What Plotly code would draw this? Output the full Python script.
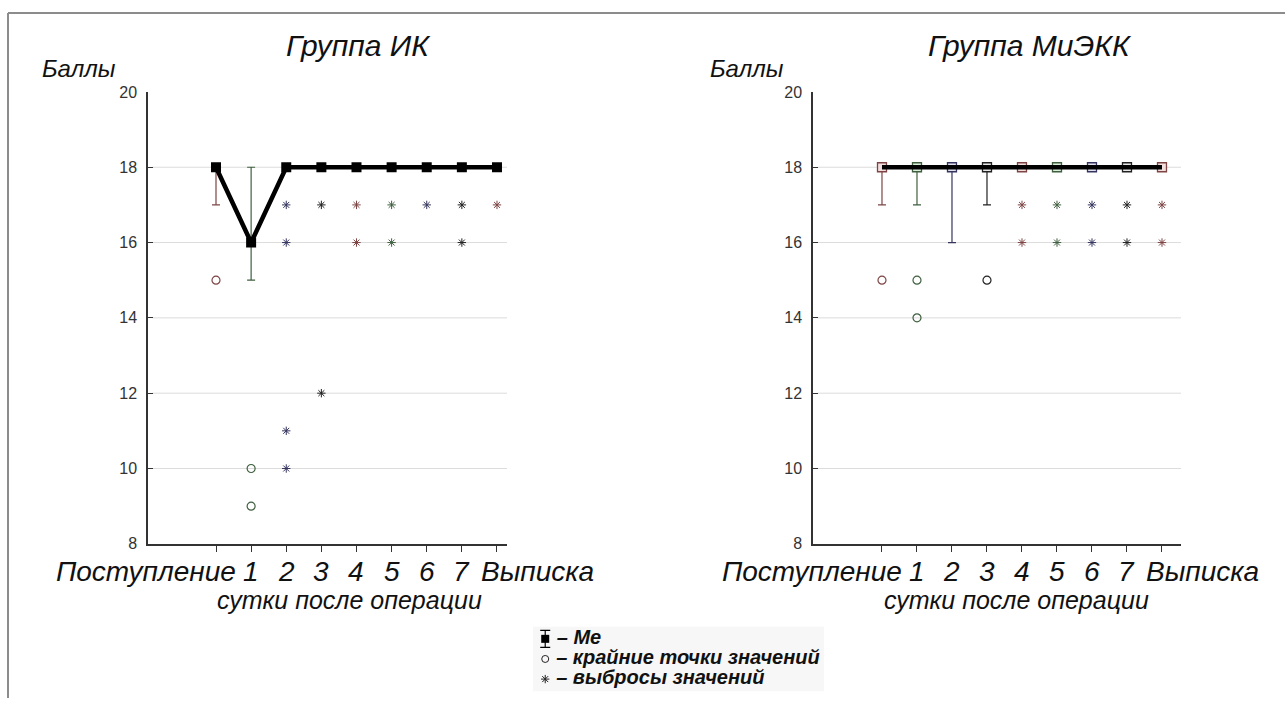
import plotly.graph_objects as go

# ---------------- data ----------------
categories = ["Поступление", "1", "2", "3", "4", "5", "6", "7", "Выписка"]
cat_idx = list(range(len(categories)))

# Group IK
ik_median = [18, 16, 18, 18, 18, 18, 18, 18, 18]
ik_whisk_lo = [17, 15, None, None, None, None, None, None, None]
ik_whisk_hi = [18, 18, None, None, None, None, None, None, None]
ik_extreme_x = [0, 1, 1]
ik_extreme_y = [15, 10, 9]
ik_outlier_x = [2, 2, 2, 2, 3, 3, 4, 4, 5, 5, 6, 7, 7, 8]
ik_outlier_y = [17, 16, 11, 10, 17, 12, 17, 16, 17, 16, 17, 17, 16, 17]

# Group MiEKK
mi_median = [18, 18, 18, 18, 18, 18, 18, 18, 18]
mi_whisk_lo = [17, 17, 16, 17, None, None, None, None, None]
mi_whisk_hi = [18, 18, 18, 18, None, None, None, None, None]
mi_extreme_x = [0, 1, 1, 3]
mi_extreme_y = [15, 15, 14, 15]
mi_outlier_x = [4, 4, 5, 5, 6, 6, 7, 7, 8, 8]
mi_outlier_y = [17, 16, 17, 16, 17, 16, 17, 16, 17, 16]

y_ticks = [8, 10, 12, 14, 16, 18, 20]
grid_vals = [10, 12, 14, 16, 18]

titles = ["Группа ИК", "Группа МиЭКК"]
y_title = "Баллы"
x_title = "сутки после операции"
legend_labels = ["– Me", "– крайние точки значений", "– выбросы значений"]

# ---------------- style ----------------
W, H = 1285, 707
palette = ["#7e4444", "#3f5f3f", "#35355f", "#222222"]
tint = ["#f1dede", "#dcefdc", "#e0e0f0", "#e8e8e8"]
FONT = "Liberation Sans, Arial, sans-serif"


def px(x):
    return x / W


def py(y):
    return 1 - y / H


def col(i):
    return palette[i % len(palette)]


fig = go.Figure()


def add_group(xa, ya, median, lo, hi, ex_x, ex_y, out_x, out_y, filled):
    for i in cat_idx:
        if lo[i] is None:
            continue
        fig.add_trace(go.Scatter(
            x=[i], y=[hi[i]], mode="markers", marker=dict(size=1, opacity=0),
            error_y=dict(type="data", symmetric=False, array=[0],
                         arrayminus=[hi[i] - lo[i]], color=col(i),
                         thickness=1.2, width=4),
            xaxis=xa, yaxis=ya, showlegend=False, hoverinfo="skip"))
    fig.add_trace(go.Scatter(
        x=ex_x, y=ex_y, mode="markers",
        marker=dict(symbol="circle-open", size=8, color=[col(i) for i in ex_x],
                    line=dict(width=1.2)),
        xaxis=xa, yaxis=ya, showlegend=False))
    fig.add_trace(go.Scatter(
        x=out_x, y=out_y, mode="markers",
        marker=dict(symbol="asterisk-open", size=7, color=[col(i) for i in out_x],
                    line=dict(width=1, color=[col(i) for i in out_x])),
        xaxis=xa, yaxis=ya, showlegend=False))
    if filled:
        fig.add_trace(go.Scatter(
            x=cat_idx, y=median, mode="lines+markers",
            line=dict(color="black", width=4.5),
            marker=dict(symbol="square", size=10, color="black"),
            xaxis=xa, yaxis=ya, showlegend=False))
    else:
        fig.add_trace(go.Scatter(
            x=cat_idx, y=median, mode="markers",
            marker=dict(symbol="square", size=9,
                        color=[tint[i % 4] for i in cat_idx],
                        line=dict(width=1.3, color=[col(i) for i in cat_idx])),
            xaxis=xa, yaxis=ya, showlegend=False))
        fig.add_trace(go.Scatter(
            x=cat_idx, y=median, mode="lines",
            line=dict(color="black", width=4.5),
            xaxis=xa, yaxis=ya, showlegend=False))


add_group("x", "y", ik_median, ik_whisk_lo, ik_whisk_hi, ik_extreme_x,
          ik_extreme_y, ik_outlier_x, ik_outlier_y, True)
add_group("x2", "y2", mi_median, mi_whisk_lo, mi_whisk_hi, mi_extreme_x,
          mi_extreme_y, mi_outlier_x, mi_outlier_y, False)

# legend drawn on its own hidden axes
LEGF = dict(size=20, family=FONT, color="#111")
leg_y = list(range(len(legend_labels)))[::-1]
fig.add_trace(go.Scatter(
    x=[0], y=[leg_y[0]], mode="markers+text",
    marker=dict(symbol="square", size=8, color="black"),
    error_y=dict(type="constant", value=0.42, color="black", thickness=1.2, width=5),
    text=["<b><i>\u00a0" + legend_labels[0] + "</i></b>"], textposition="middle right",
    textfont=LEGF, xaxis="x3", yaxis="y3", showlegend=False, cliponaxis=False))
fig.add_trace(go.Scatter(
    x=[0], y=[leg_y[1]], mode="markers+text",
    marker=dict(symbol="circle-open", size=7, color="#222", line=dict(width=1)),
    text=["<b><i>\u00a0" + legend_labels[1] + "</i></b>"], textposition="middle right",
    textfont=LEGF, xaxis="x3", yaxis="y3", showlegend=False, cliponaxis=False))
fig.add_trace(go.Scatter(
    x=[0], y=[leg_y[2]], mode="markers+text",
    marker=dict(symbol="asterisk-open", size=7, color="#222",
                line=dict(width=1, color="#222")),
    text=["<b><i>\u00a0" + legend_labels[2] + "</i></b>"], textposition="middle right",
    textfont=LEGF, xaxis="x3", yaxis="y3", showlegend=False, cliponaxis=False))

xa_common = dict(tickvals=cat_idx, showticklabels=False, ticks="outside",
                 ticklen=6, tickcolor="#333", tickwidth=1, showline=True,
                 linecolor="#333", linewidth=1.5, showgrid=False,
                 zeroline=False, fixedrange=True)
ya_common = dict(range=[8, 20], tickvals=y_ticks, ticks="inside", ticklen=5,
                 tickcolor="#333", showline=True, linecolor="#333",
                 linewidth=1.5, showgrid=False, zeroline=False,
                 ticklabelstandoff=6,
                 tickfont=dict(size=16, family=FONT, color="#333"),
                 fixedrange=True)

Y_TOP, Y_BOT = 86, 549

fig.update_layout(
    width=W, height=H, margin=dict(l=0, r=0, t=0, b=0),
    paper_bgcolor="white", plot_bgcolor="white", showlegend=False,
    xaxis=dict(domain=[px(148), px(507)], range=[-1.936, 8.285],
               anchor="y", **xa_common),
    yaxis=dict(domain=[py(Y_BOT), py(Y_TOP)], anchor="x", **ya_common),
    xaxis2=dict(domain=[px(813), px(1181)], range=[-1.971, 8.543],
                anchor="y2", **xa_common),
    yaxis2=dict(domain=[py(Y_BOT), py(Y_TOP)], anchor="x2", **ya_common),
    xaxis3=dict(domain=[px(533), px(824)], range=[-0.042, 0.958], visible=False,
                fixedrange=True),
    yaxis3=dict(domain=[py(700), py(634)], range=[-0.6, 2.6], visible=False,
                fixedrange=True),
)

shapes = []
for xa, ya in (("x", "y"), ("x2", "y2")):
    for g in grid_vals:
        shapes.append(dict(type="line", xref=xa + " domain", yref=ya,
                           x0=0.012, x1=1, y0=g, y1=g,
                           line=dict(color="#dcdcdc", width=1), layer="below"))
shapes.append(dict(type="rect", xref="x3 domain", yref="y3 domain", x0=0,
                   x1=1, y0=0, y1=1, fillcolor="#f7f7f7", line=dict(width=0),
                   layer="below"))
shapes.append(dict(type="line", xref="paper", yref="paper", x0=px(8), x1=1,
                   y0=py(5), y1=py(5), line=dict(color="#8c8c8c", width=2)))
shapes.append(dict(type="line", xref="paper", yref="paper", x0=px(8), x1=px(8),
                   y0=py(5), y1=0, line=dict(color="#8c8c8c", width=2)))
fig.update_layout(shapes=shapes)

ann = []
for t, cx in zip(titles, (358, 1030)):
    ann.append(dict(text="<i>" + t + "</i>", x=px(cx), y=py(38), xref="paper",
                    yref="paper", showarrow=False, xanchor="center",
                    yanchor="middle", font=dict(size=30, family=FONT, color="#111")))
for lx in (40, 708):
    ann.append(dict(text="<i>" + y_title + "</i>", x=px(lx), y=py(62),
                    xref="paper", yref="paper", showarrow=False, xanchor="left",
                    yanchor="middle", font=dict(size=24, family=FONT, color="#111")))
for xa, cx in (("x", 350), ("x2", 1016)):
    ann.append(dict(text="<i>" + x_title + "</i>", x=px(cx), y=py(607),
                    xref="paper", yref="paper", showarrow=False,
                    xanchor="center", yanchor="middle",
                    font=dict(size=25, family=FONT, color="#111")))
    for i, c in enumerate(categories):
        if i == 0:
            xv, anchor = 0.64, "right"
        elif i == len(categories) - 1:
            xv, anchor = 7.5, "left"
        else:
            xv, anchor = i, "center"
        ann.append(dict(text="<i>" + c + "</i>", x=xv, y=py(577), xref=xa,
                        yref="paper", showarrow=False, xanchor=anchor,
                        yanchor="middle",
                        font=dict(size=28, family=FONT, color="#111")))
fig.update_layout(annotations=ann)

fig.write_html("out.html")
